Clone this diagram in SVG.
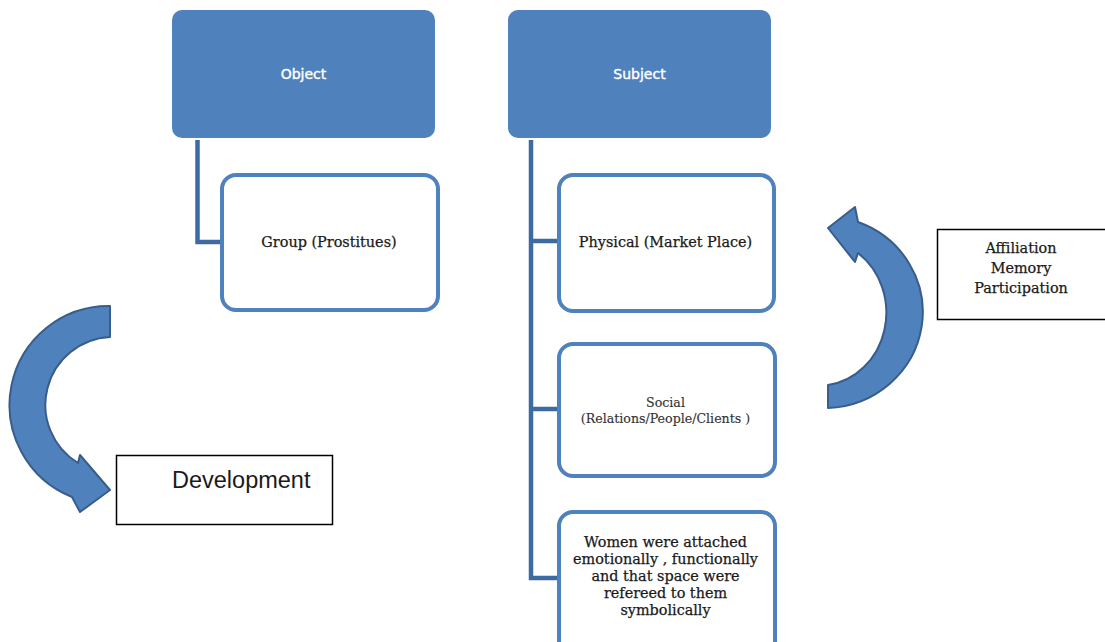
<svg xmlns="http://www.w3.org/2000/svg" width="1105" height="642" viewBox="0 0 1105 642">
<style>
.head{fill:#4F81BD;}
.headtxt{fill:#FFFFFF;stroke:#FFFFFF;stroke-width:0.4;font-family:"DejaVu Sans",sans-serif;font-size:14px;text-anchor:middle;dominant-baseline:central;}
.child{fill:#FFFFFF;stroke:#4F81BD;stroke-width:4;}
.ctxt{fill:#1a1a1a;stroke:#1a1a1a;stroke-width:0.25;font-family:"DejaVu Serif",serif;font-size:14.4px;text-anchor:middle;}
.conn{fill:none;stroke:#3C6AA3;stroke-width:4.5;}
.box{fill:#FFFFFF;stroke:#000000;stroke-width:1.5;}
.arrow{fill:#4F81BD;stroke:#385D8A;stroke-width:2;stroke-linejoin:round;}
</style>
<rect width="1105" height="642" fill="#FFFFFF"/>
<g id="connectors">
<polyline class="conn" points="197.5,140 197.5,242 222,242"/>
<polyline class="conn" points="531,140 531,578 559,578"/>
<line class="conn" x1="531" y1="241" x2="559" y2="241"/>
<line class="conn" x1="531" y1="409" x2="559" y2="409"/>
</g>
<g id="object">
<rect class="head" x="172" y="10" width="263" height="128" rx="10"/>
<text class="headtxt" x="303.5" y="74">Object</text>
</g>
<g id="subject">
<rect class="head" x="508" y="10" width="263" height="128" rx="10"/>
<text class="headtxt" x="639.5" y="74">Subject</text>
</g>
<g id="group">
<rect class="child" x="222" y="175" width="216" height="135" rx="14"/>
<text class="ctxt" x="329" y="247">Group (Prostitues)</text>
</g>
<g id="physical">
<rect class="child" x="559" y="175" width="215" height="136" rx="14"/>
<text class="ctxt" x="665.5" y="247">Physical (Market Place)</text>
</g>
<g id="social">
<rect class="child" x="559" y="344" width="216" height="132" rx="14"/>
<text class="ctxt" x="665.5" y="407" style="font-size:12.6px;fill:#333;stroke:#333;stroke-width:0.15">Social</text>
<text class="ctxt" x="665.5" y="423" style="font-size:12.6px;fill:#333;stroke:#333;stroke-width:0.15">(Relations/People/Clients )</text>
</g>
<g id="women">
<rect class="child" x="559" y="512" width="216" height="145" rx="14"/>
<text class="ctxt" x="665.5" y="547">Women were attached</text>
<text class="ctxt" x="665.5" y="564">emotionally , functionally</text>
<text class="ctxt" x="665.5" y="581">and that space were</text>
<text class="ctxt" x="665.5" y="598">refereed to them</text>
<text class="ctxt" x="665.5" y="615">symbolically</text>
</g>
<g id="development-arrow">
<path class="arrow" d="M110,306 A99,99 0 0 0 72,497 L80,512 L110,490 L80,455 L78,463 A68,68 0 0 1 110,337 Z"/>
</g>
<g id="development">
<rect class="box" x="116.5" y="455.5" width="216" height="69"/>
<text x="172" y="488" style="font-family:'Liberation Sans',Arial,sans-serif;font-size:23.5px;fill:#1a1a1a">Development</text>
</g>
<g id="affiliation-arrow">
<path class="arrow" d="M828,408 A99,96 0 0 0 858,222 L855,207 L828,228 L855,262 L858,253 A67,73 0 0 1 828,385 Z"/>
</g>
<g id="affiliation">
<rect class="box" x="937.5" y="229.5" width="200" height="90"/>
<text class="ctxt" x="1021" y="253">Affiliation</text>
<text class="ctxt" x="1021" y="273">Memory</text>
<text class="ctxt" x="1021" y="293">Participation</text>
</g>
</svg>
